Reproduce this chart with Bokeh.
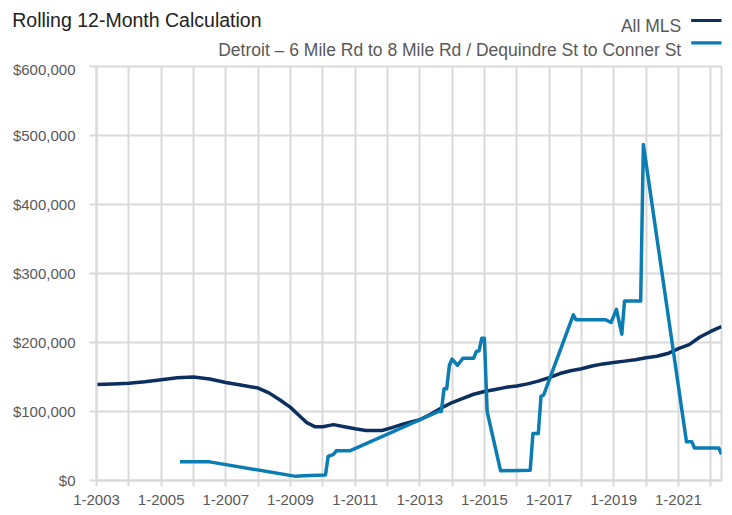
from bokeh.plotting import figure
from bokeh.layouts import column
from bokeh.models import Range1d, FixedTicker, NumeralTickFormatter, Label, BoxAnnotation, ColumnDataSource
from bokeh.embed import file_html
from bokeh.resources import INLINE

# Month index: 0 = January 2003
mls_month = [0, 6, 12, 18, 24, 30, 36, 42, 48, 54, 60, 64, 68, 72, 75, 78, 81, 84, 88, 92,
             96, 100, 106, 110, 114, 120, 124, 128, 132, 136, 140, 144, 148, 152, 156, 160,
             164, 168, 172, 176, 180, 184, 188, 192, 196, 200, 204, 208, 212, 216, 220, 224,
             228, 232]
mls_value = [139000, 140000, 141000, 143000, 146000, 149000, 150000, 147000, 142000, 138000,
             134000, 127000, 117000, 106000, 95000, 84000, 78000, 78000, 81000, 78000,
             75000, 72500, 72500, 77000, 82000, 88000, 96000, 105000, 113000, 119000,
             125000, 129000, 132000, 135000, 137000, 140000, 144000, 149000, 155000, 159000,
             162000, 166000, 169000, 171000, 173000, 175000, 178000, 180000, 184000, 191000,
             197000, 208000, 216000, 223000]

det_month = [31, 42, 74, 77, 85, 86, 88, 89, 94, 127, 128, 129, 130, 131, 132, 134, 136, 140,
             141, 142, 143, 144, 145, 150, 161, 162, 164, 165, 166, 177, 178, 189, 191, 193,
             195, 196, 202, 203, 219, 221, 222, 231, 232]
det_value = [27000, 27000, 6000, 7000, 8000, 35000, 38000, 43000, 43000, 100000, 100000,
             133000, 133000, 167000, 176000, 167000, 177000, 177000, 187000, 188000, 206000,
             206000, 100000, 14000, 15000, 68000, 68000, 122000, 124000, 240000, 233000,
             233000, 229000, 248000, 212000, 260000, 260000, 487000, 56000, 56000, 47000,
             47000, 38000]

x_tick_months = [0, 12, 24, 36, 48, 60, 72, 84, 96, 108, 120, 132, 144, 156, 168, 180, 192,
                 204, 216, 228]
x_tick_labels = ["1-2003", "", "1-2005", "", "1-2007", "", "1-2009", "", "1-2011", "",
                 "1-2013", "", "1-2015", "", "1-2017", "", "1-2019", "", "1-2021", ""]
y_ticks = [0, 100000, 200000, 300000, 400000, 500000, 600000]

series_names = ["All MLS", "Detroit \u2013 6 Mile Rd to 8 Mile Rd / Dequindre St to Conner St"]
title_text = "Rolling 12-Month Calculation"

DARK = "#0b2f5e"
LIGHT = "#0b7db3"
GRID = "#d9d9d9"
TXT = "#595959"
FONT = "Liberation Sans"

BORDER_L, FRAME_W, BORDER_R = 96, 625, 2
TOTAL_W = BORDER_L + FRAME_W + BORDER_R

# ---------- header (title + legend); header data coords = page pixels ----------
hdr = figure(frame_width=TOTAL_W, frame_height=60,
             min_border_left=0, min_border_right=0, min_border_top=0, min_border_bottom=0,
             x_range=Range1d(1, 1 + TOTAL_W), y_range=Range1d(61, 1),
             x_axis_type=None, y_axis_type=None,
             output_backend="svg", toolbar_location=None)
hdr.outline_line_color = None
hdr.background_fill_color = "white"
hdr.border_fill_color = "white"
hdr.grid.visible = False

hdr.add_layout(Label(x=12.7, y=20.7, text=title_text,
                     text_font=FONT, text_font_size="19.5px", text_color="#222222",
                     text_align="left", text_baseline="alphabetic"))

legend_rows = [(26.7, 21.0, DARK), (50.0, 43.3, LIGHT)]
for name, (ty, ly, col) in zip(series_names, legend_rows):
    hdr.add_layout(Label(x=681.7, y=ty, text=name,
                         text_font=FONT, text_font_size="17.5px", text_color=TXT,
                         text_align="right", text_baseline="alphabetic"))
    hdr.add_layout(BoxAnnotation(left=691.7, right=722, bottom=ly + 1.6, top=ly - 1.6,
                                 fill_color=col, fill_alpha=1.0, line_color=None))

# ---------- main chart ----------
p = figure(frame_width=FRAME_W, frame_height=414,
           min_border_left=BORDER_L, min_border_right=BORDER_R,
           min_border_top=6, min_border_bottom=33,
           x_range=Range1d(0, 232), y_range=Range1d(0, 600000),
           output_backend="svg", toolbar_location=None)

p.background_fill_color = "white"
p.border_fill_color = "white"
p.outline_line_color = GRID
p.outline_line_width = 2

mls_src = ColumnDataSource(dict(x=mls_month, y=mls_value))
det_src = ColumnDataSource(dict(x=det_month, y=det_value))
p.line("x", "y", source=mls_src, line_color=DARK, line_width=3.5, line_join="round")
p.line("x", "y", source=det_src, line_color=LIGHT, line_width=3.5, line_join="round")

p.xaxis.ticker = FixedTicker(ticks=x_tick_months, minor_ticks=[])
p.xaxis.major_label_overrides = {m: lab for m, lab in zip(x_tick_months, x_tick_labels)}
p.yaxis.ticker = FixedTicker(ticks=y_ticks, minor_ticks=[])
p.yaxis.formatter = NumeralTickFormatter(format="$0,0")

for ax in (p.xaxis, p.yaxis):
    ax.axis_line_color = GRID
    ax.axis_line_width = 2
    ax.major_tick_line_color = GRID
    ax.major_tick_line_width = 2
    ax.major_tick_in = 0
    ax.minor_tick_line_color = None
    ax.major_label_text_font = FONT
    ax.major_label_text_font_size = "15px"
    ax.major_label_text_color = TXT
p.xaxis.major_tick_out = 6
p.yaxis.major_tick_out = 7
p.xaxis.major_label_standoff = 8
p.yaxis.major_label_standoff = 14

p.xgrid.grid_line_color = GRID
p.xgrid.grid_line_width = 2
p.ygrid.grid_line_color = GRID
p.ygrid.grid_line_width = 2

# keep the header's frame independent of the chart's frame
hdr.frame_align = False
p.frame_align = False

layout = column(hdr, p, spacing=0)
open("out.html", "w").write(file_html(layout, INLINE))
